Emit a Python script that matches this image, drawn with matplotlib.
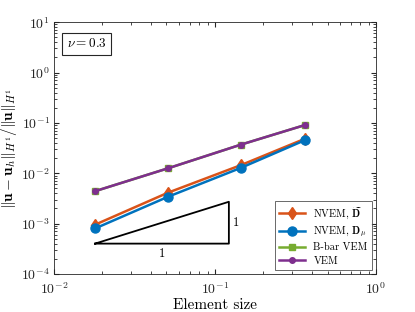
import numpy as np
import matplotlib
matplotlib.use("Agg")
import matplotlib.pyplot as plt

plt.rcParams['font.family'] = 'serif'
plt.rcParams['font.serif'] = ['cmr10', 'DejaVu Serif']
plt.rcParams['mathtext.fontset'] = 'cm'
plt.rcParams['axes.formatter.use_mathtext'] = True
plt.rcParams['axes.unicode_minus'] = False

# data
h = [0.018, 0.051, 0.145, 0.36]
nvem_dtilde = [0.00095, 0.0041, 0.0145, 0.048]
nvem_dmu = [0.0008, 0.0034, 0.0128, 0.045]
bbar_vem = [0.0044, 0.0125, 0.037, 0.09]
vem = [0.0044, 0.0125, 0.037, 0.09]

tri_x = [0.018, 0.122]
tri_y0 = 0.0004

c_or = '#D95319'
c_bl = '#0072BD'
c_gr = '#77AC30'
c_pu = '#7E2F8E'

fig = plt.figure(figsize=(4.15, 3.12), dpi=100)
ax = fig.add_axes([0.130, 0.122, 0.776, 0.807])

ax.loglog(h, nvem_dtilde, '-d', color=c_or, lw=1.8, ms=6, label=r'NVEM, $\widetilde{\mathbf{D}}$')
ax.loglog(h, nvem_dmu, '-o', color=c_bl, lw=1.8, ms=6.5, label=r'NVEM, $\mathbf{D}_\mu$')
ax.loglog(h, bbar_vem, '-s', color=c_gr, lw=1.8, ms=5, label='B-bar VEM')
ax.loglog(h, vem, '-o', color=c_pu, lw=1.8, ms=4, label='VEM')

# slope triangle
x0, x1 = tri_x
y1 = tri_y0 * (x1 / x0)
ax.plot([x0, x1, x1, x0], [tri_y0, tri_y0, y1, tri_y0], color='k', lw=1.3)
ax.text(np.sqrt(x0 * x1), tri_y0 * 0.82, '1', ha='center', va='top', fontsize=9)
ax.text(x1 * 1.06, np.sqrt(tri_y0 * y1), '1', ha='left', va='center', fontsize=9)

ax.set_xlim(1e-2, 1e0)
ax.set_ylim(1e-4, 1e1)
ax.set_xlabel('Element size', fontsize=11)
ax.set_ylabel(r'$\|\mathbf{u}-\mathbf{u}_h\|_{H^1}/\|\mathbf{u}\|_{H^1}$', fontsize=11)
ax.xaxis.set_label_coords(0.5, -0.095)
ax.yaxis.set_label_coords(-0.108, 0.5)

ax.tick_params(which='both', direction='in', top=True, right=True, colors='#262626', labelsize=10)
ax.tick_params(which='major', length=3.5, pad=3)
ax.tick_params(axis='x', which='major', pad=5)
ax.tick_params(which='minor', length=2)
for s in ax.spines.values():
    s.set_color('#262626')
    s.set_linewidth(0.6)

ax.text(0.04, 0.9, r'$\nu = 0.3$', transform=ax.transAxes, fontsize=9.5,
        bbox=dict(facecolor='white', edgecolor='#262626', linewidth=0.8, boxstyle='square,pad=0.35'))

leg = ax.legend(loc='lower right', fontsize=7.5, frameon=True, fancybox=False,
                edgecolor='#262626', handlelength=2.5, borderaxespad=0.4,
                labelspacing=0.35)
leg.get_frame().set_linewidth(0.6)

fig.savefig('out.png', dpi=100)
